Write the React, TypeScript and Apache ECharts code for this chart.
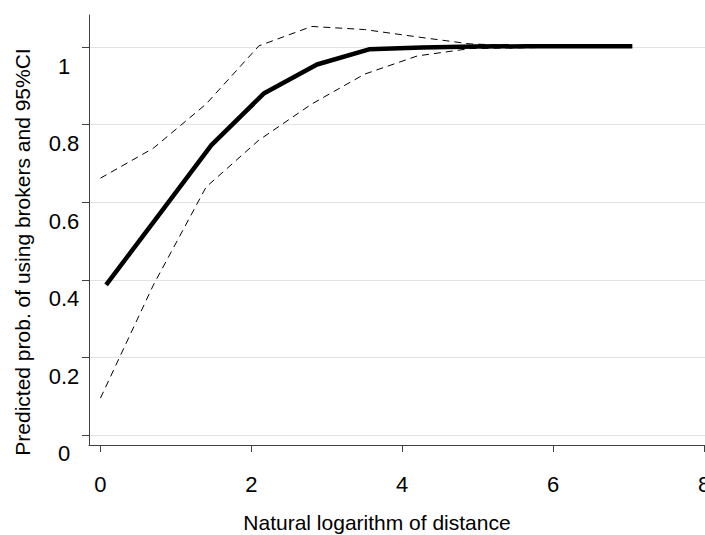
import React, { useEffect, useRef } from "react";
import * as echarts from "echarts";

// Predicted probability (solid line)
const mainX = [0.075, 0.77, 1.47, 2.17, 2.87, 3.56, 4.26, 4.96, 5.66, 6.35, 7.05];
const mainY = [0.387, 0.566, 0.747, 0.881, 0.955, 0.994, 0.999, 1.001, 1.002, 1.002, 1.002];

// 95% confidence interval (dashed lines)
const ciX = [0, 0.7, 1.4, 2.1, 2.8, 3.5, 4.2, 4.9, 5.6, 6.3, 7.0];
const upperY = [0.662, 0.739, 0.853, 1.003, 1.053, 1.045, 1.026, 1.008, 1.003, 1.002, 1.002];
const lowerY = [0.095, 0.386, 0.639, 0.76, 0.853, 0.93, 0.977, 0.996, 0.998, 1.0, 1.001];

const xTicks = [0, 2, 4, 6, 8];
const yTicks = [0, 0.2, 0.4, 0.6, 0.8, 1];

const xTitle = "Natural logarithm of distance";
const yTitle = "Predicted prob. of using brokers and 95%CI";

const FONT = "'Liberation Sans', Arial, Helvetica, sans-serif";

export default function App() {
  const ref = useRef<HTMLDivElement>(null);

  useEffect(() => {
    if (!ref.current) return;
    const chart = echarts.init(ref.current, undefined, { renderer: "svg" });
    const pairs = (xs: number[], ys: number[]) => xs.map((x, i) => [x, ys[i]]);
    chart.setOption({
      animation: false,
      backgroundColor: "#ffffff",
      grid: {
        left: 89,
        right: 0,
        top: 15,
        bottom: 90,
        containLabel: false,
        outerBoundsMode: "none",
      },
      xAxis: {
        type: "value",
        min: -0.152,
        max: 8.013,
        name: xTitle,
        nameLocation: "middle",
        nameGap: 65,
        nameTextStyle: {
          fontFamily: FONT,
          fontSize: 21,
          color: "#000",
          lineHeight: 24,
          padding: [0, 40, 0, 0],
        },
        axisLine: { show: true, onZero: false, lineStyle: { color: "#404040", width: 1 } },
        axisTick: { show: true, length: 7, customValues: xTicks, lineStyle: { color: "#404040" } },
        axisLabel: {
          customValues: xTicks,
          fontFamily: FONT,
          fontSize: 22,
          lineHeight: 22,
          color: "#000",
          margin: 28,
          showMaxLabel: true,
          showMinLabel: true,
        },
        splitLine: { show: false },
      },
      yAxis: {
        type: "value",
        min: -0.0258,
        max: 1.0825,
        name: yTitle,
        nameLocation: "middle",
        nameGap: 55,
        nameRotate: 90,
        nameTextStyle: {
          fontFamily: FONT,
          fontSize: 21,
          color: "#000",
          lineHeight: 24,
          padding: [0, 44, 0, 0],
        },
        axisLine: { show: true, onZero: false, lineStyle: { color: "#404040", width: 1 } },
        axisTick: { show: true, length: 7, customValues: yTicks, lineStyle: { color: "#404040" } },
        axisLabel: {
          customValues: yTicks,
          fontFamily: FONT,
          fontSize: 22,
          color: "#000",
          align: "center",
          verticalAlign: "top",
          lineHeight: 38,
          margin: 25,
        },
        splitLine: { show: true, lineStyle: { color: "#e2e2e2", width: 1 } },
      },
      series: [
        {
          type: "line",
          name: "Predicted probability",
          data: pairs(mainX, mainY),
          showSymbol: false,
          symbol: "none",
          lineStyle: { color: "#000", width: 4.5, cap: "butt", join: "round" },
          z: 3,
        },
        {
          type: "line",
          name: "Upper 95% CI",
          data: pairs(ciX, upperY),
          showSymbol: false,
          symbol: "none",
          lineStyle: { color: "#000", width: 1, type: [7, 5] },
          z: 2,
        },
        {
          type: "line",
          name: "Lower 95% CI",
          data: pairs(ciX, lowerY),
          showSymbol: false,
          symbol: "none",
          lineStyle: { color: "#000", width: 1, type: [7, 5] },
          z: 2,
        },
      ],
    });
    return () => chart.dispose();
  }, []);

  return (
    <div
      ref={ref}
      style={{ position: "absolute", left: 0, top: 0, width: 705, height: 535 }}
    />
  );
}
